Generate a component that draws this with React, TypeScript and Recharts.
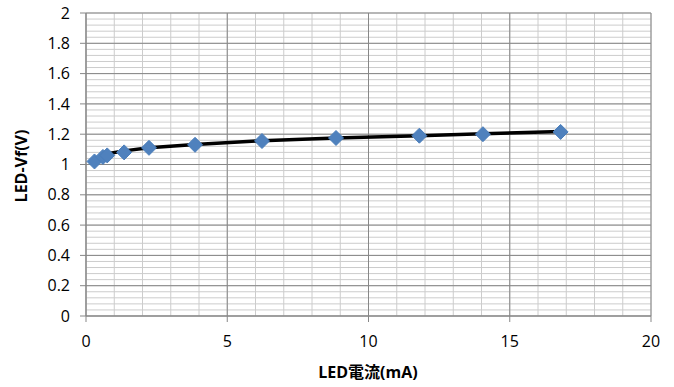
import React from 'react';
import { ScatterChart, Scatter, XAxis, YAxis, ReferenceLine } from 'recharts';

// measured LED forward voltage vs current
const currentMA = [0.3, 0.6, 0.75, 1.35, 2.23, 3.86, 6.23, 8.85, 11.8, 14.05, 16.8];
const vf = [1.02, 1.05, 1.06, 1.08, 1.11, 1.13, 1.155, 1.175, 1.19, 1.2, 1.215];

// black fit curve
const fitX = [0.65, 1.35, 2.23, 3.86, 6.23, 8.85, 11.8, 14.05, 16.8];
const fitY = [1.068, 1.09, 1.11, 1.132, 1.157, 1.175, 1.19, 1.203, 1.218];

const xTicks = [0, 5, 10, 15, 20];
const yTicks = [0, 0.2, 0.4, 0.6, 0.8, 1, 1.2, 1.4, 1.6, 1.8, 2];
const xMinor = Array.from({ length: 21 }, (_, i) => i);
const yMinor = Array.from({ length: 51 }, (_, i) => +(i * 0.04).toFixed(2));

const points = currentMA.map((x, i) => ({ x, y: vf[i] }));
const fit = fitX.map((x, i) => ({ x, y: fitY[i] }));

const FONT = '"Open Sans", "Noto Sans CJK JP", sans-serif';

const Diamond = (props: any) => {
  const { cx, cy } = props;
  const r = 7.5;
  return (
    <polygon
      points={`${cx},${cy - r} ${cx + r},${cy} ${cx},${cy + r} ${cx - r},${cy}`}
      fill="#4F81BD"
      stroke="#4A7EBB"
      strokeWidth={1}
    />
  );
};

const App = () => {
  return (
    <div style={{ width: 674, height: 387, background: '#fff' }}>
      <style>{'body{margin:0}'}</style>
      <ScatterChart width={674} height={387} margin={{ top: 13, right: 23, bottom: 31, left: 30 }}>
        {xMinor.map((v) => (
          <ReferenceLine key={'xm' + v} x={v} stroke="#cccccc" strokeWidth={1} />
        ))}
        {yMinor.map((v) => (
          <ReferenceLine key={'ym' + v} y={v} stroke="#cccccc" strokeWidth={1} />
        ))}
        {xTicks.map((v) => (
          <ReferenceLine key={'xM' + v} x={v} stroke="#878787" strokeWidth={1} />
        ))}
        {yTicks.map((v) => (
          <ReferenceLine key={'yM' + v} y={v} stroke="#878787" strokeWidth={1} />
        ))}
        <XAxis
          type="number"
          dataKey="x"
          domain={[0, 20]}
          ticks={xTicks}
          height={40}
          tickSize={6}
          tickMargin={14}
          axisLine={{ stroke: '#878787' }}
          tickLine={{ stroke: '#878787' }}
          tick={{ fill: '#000', fontSize: 16, fontFamily: FONT }}
          allowDataOverflow
          label={{
            content: () => (
              <text x={368} y={378} textAnchor="middle" fontFamily={FONT} fontWeight="bold" fontSize={16} fill="#000">
                LED電流(mA)
              </text>
            ),
          }}
        />
        <YAxis
          type="number"
          dataKey="y"
          domain={[0, 2]}
          ticks={yTicks}
          width={56}
          tickSize={6}
          tickMargin={10}
          axisLine={{ stroke: '#878787' }}
          tickLine={{ stroke: '#878787' }}
          tick={{ fill: '#000', fontSize: 16, fontFamily: FONT }}
          allowDataOverflow
          label={{
            content: () => (
              <text
                x={27}
                y={166}
                transform="rotate(-90 27 166)"
                textAnchor="middle"
                fontFamily={FONT}
                fontWeight="bold"
                fontSize={16}
                fill="#000"
              >
                LED-Vf(V)
              </text>
            ),
          }}
        />
        <Scatter
          data={fit}
          line={{ stroke: '#000', strokeWidth: 3.5 }}
          lineType="joint"
          shape={() => null}
          isAnimationActive={false}
        />
        <Scatter data={points} shape={<Diamond />} isAnimationActive={false} />
      </ScatterChart>
    </div>
  );
};

export default App;
